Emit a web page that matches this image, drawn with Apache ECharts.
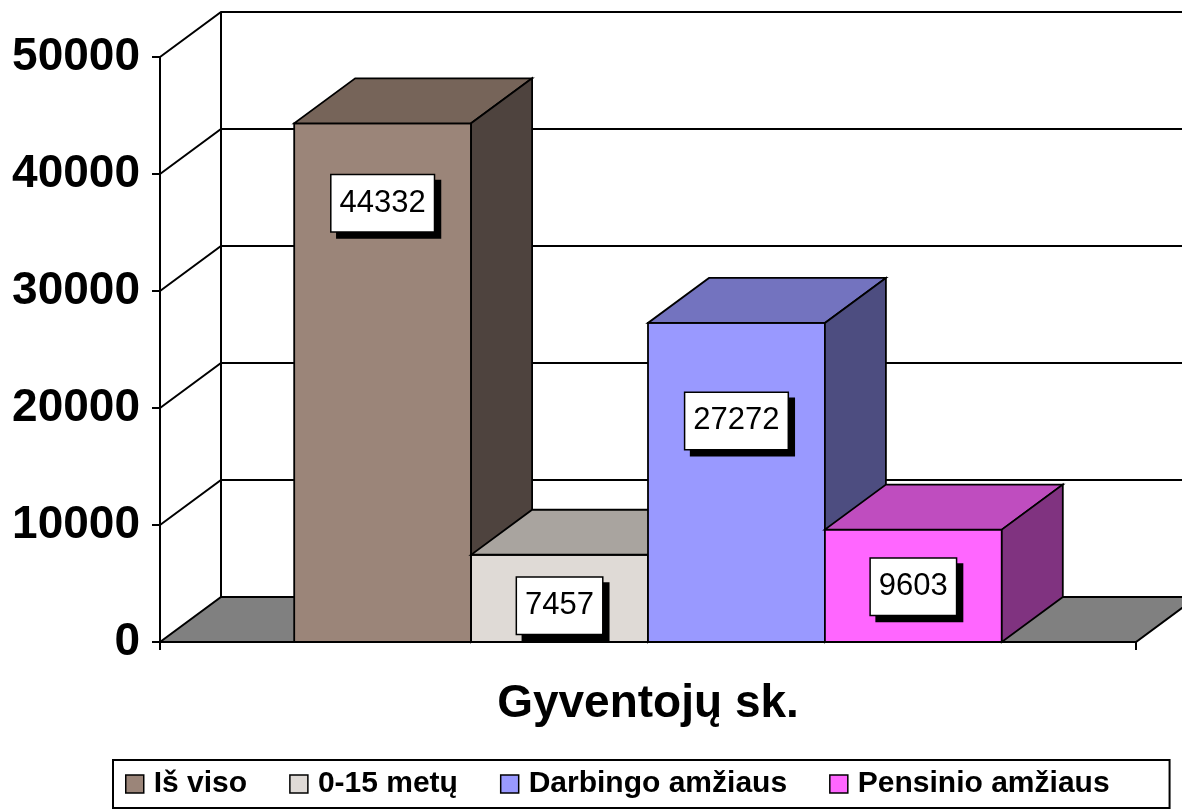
<!DOCTYPE html>
<html>
<head>
<meta charset="utf-8">
<script src="https://cdn.jsdelivr.net/npm/echarts@6/dist/echarts.min.js"></script>
<style>
  html, body { margin: 0; padding: 0; background: #fff; }
  #chart { width: 1182px; height: 809px; }
</style>
</head>
<body>
<div id="chart"></div>
<script>
const categories = ['Gyventojų sk.'];
const seriesNames = ['Iš viso', '0-15 metų', 'Darbingo amžiaus', 'Pensinio amžiaus'];
const values = [44332, 7457, 27272, 9603];
const yTicks = [0, 10000, 20000, 30000, 40000, 50000];

// look of each bar: front / top / side colours, label offset below the top
const barStyles = [
  { front: '#9b8579', top: '#766459', side: '#4e433e', labelDy: 80 },
  { front: '#dfdad6', top: '#a9a49f', side: '#6f6b68', labelDy: 51 },
  { front: '#9999ff', top: '#7373bf', side: '#4d4d80', labelDy: 98 },
  { front: '#ff66ff', top: '#bf4dbf', side: '#803380', labelDy: 57 }
];

const FONT = "'Liberation Sans', Arial, sans-serif";
const DX = 61, DY = 45;          // depth of the 3d box
const GROUP_RATIO = 0.725;      // share of the category band used by the bars
const EDGE = { stroke: '#000', lineWidth: 1.8 };

const chart = echarts.init(document.getElementById('chart'), null, { renderer: 'canvas' });

function wallRender(params, api) {
  const cs = params.coordSys;
  const left = cs.x, right = cs.x + cs.width;
  const t = api.value(1);
  const y = api.coord([0, t])[1];
  const y0 = api.coord([0, 0])[1];
  const children = [];
  if (t === 0) {
    children.push({
      type: 'polygon',
      shape: { points: [[left, y0], [left + DX, y0 - DY], [right + DX, y0 - DY], [right, y0]] },
      style: { fill: '#808080', stroke: '#000', lineWidth: 2 }
    });
  } else {
    children.push({
      type: 'polyline',
      shape: { points: [[left, y], [left + DX, y - DY], [right + DX, y - DY]] },
      style: { fill: null, stroke: '#000', lineWidth: 2 }
    });
  }
  if (t === yTicks[yTicks.length - 1]) {
    children.push({
      type: 'line',
      shape: { x1: left + DX, y1: y - DY, x2: left + DX, y2: y0 - DY },
      style: { stroke: '#000', lineWidth: 2 }
    });
  }
  return { type: 'group', children: children };
}

function barRender(i) {
  return function (params, api) {
    const cat = api.value(0);
    const v = api.value(1);
    const base = api.coord([cat, 0]);
    const top = api.coord([cat, v]);
    const groupW = api.size([1, 0])[0] * GROUP_RATIO;
    const bw = groupW / seriesNames.length;
    const x0 = base[0] - groupW / 2 + i * bw;
    const x1 = x0 + bw;
    const yb = base[1], yt = top[1];
    const st = barStyles[i];
    const labelStyle = {
      text: String(v),
      font: '31px ' + FONT,
      align: 'center',
      verticalAlign: 'middle',
      lineHeight: 36,
      padding: [10, 8],
      borderWidth: 1.5
    };
    const cx = (x0 + x1) / 2, cy = yt + st.labelDy;
    return {
      type: 'group',
      children: [
        { type: 'polygon', shape: { points: [[x0, yt], [x1, yt], [x1, yb], [x0, yb]] },
          style: Object.assign({ fill: st.front }, EDGE) },
        { type: 'polygon', shape: { points: [[x0, yt], [x1, yt], [x1 + DX, yt - DY], [x0 + DX, yt - DY]] },
          style: Object.assign({ fill: st.top }, EDGE) },
        { type: 'polygon', shape: { points: [[x1, yt], [x1 + DX, yt - DY], [x1 + DX, yb - DY], [x1, yb]] },
          style: Object.assign({ fill: st.side }, EDGE) },
        // label shadow then label box
        { type: 'text', x: cx + 6, y: cy + 6,
          style: Object.assign({}, labelStyle, { fill: 'rgba(0,0,0,0)', backgroundColor: '#000', borderColor: '#000' }) },
        { type: 'text', x: cx, y: cy,
          style: Object.assign({}, labelStyle, { fill: '#000', backgroundColor: '#fff', borderColor: '#000' }) }
      ]
    };
  };
}

const series = [{
  name: 'walls',
  type: 'custom',
  z: 1,
  clip: false,
  silent: true,
  renderItem: wallRender,
  data: yTicks.map(t => [0, t])
}];
seriesNames.forEach((name, i) => {
  series.push({
    name: name,
    type: 'custom',
    z: 2 + i,
    clip: false,
    itemStyle: { color: barStyles[i].front },
    renderItem: barRender(i),
    data: [[0, values[i]]]
  });
});

chart.setOption({
  animation: false,
  backgroundColor: '#fff',
  grid: { left: 160, right: 46, top: 57, bottom: 167 },
  legend: {
    data: seriesNames,
    left: 113,
    top: 760,
    padding: [9, 60, 9, 12],
    itemGap: 42,
    itemWidth: 18,
    itemHeight: 18,
    icon: 'rect',
    borderColor: '#000',
    borderWidth: 2,
    backgroundColor: '#fff',
    itemStyle: { borderColor: '#000', borderWidth: 1.5 },
    textStyle: { fontFamily: FONT, fontSize: 30, fontWeight: 'bold', color: '#000', padding: [0, 0, 0, 5] }
  },
  xAxis: {
    type: 'category',
    data: categories,
    z: 10,
    axisLine: { lineStyle: { color: '#000', width: 2 } },
    axisTick: { show: true, length: 8, lineStyle: { color: '#000', width: 2 } },
    axisLabel: { margin: 39, fontFamily: FONT, fontSize: 46, fontWeight: 'bold', color: '#000' },
    splitLine: { show: false }
  },
  yAxis: {
    type: 'value',
    min: 0,
    max: 50000,
    interval: 10000,
    z: 10,
    axisLine: { show: true, lineStyle: { color: '#000', width: 2 } },
    axisTick: { show: true, length: 8, lineStyle: { color: '#000', width: 2 } },
    axisLabel: {
      margin: 20, fontFamily: FONT, fontSize: 46, fontWeight: 'bold', color: '#000',
      formatter: v => String(v)
    },
    splitLine: { show: false }
  },
  series: series
});
</script>
</body>
</html>
